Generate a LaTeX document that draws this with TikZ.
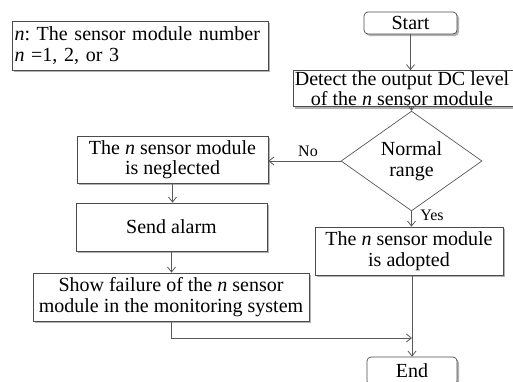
\documentclass[tikz,border=0pt]{standalone}
\usepackage{fontspec}
\setmainfont{Liberation Serif}
\usetikzlibrary{shapes.geometric,shadows,arrows.meta}
\definecolor{edgegray}{gray}{0.35}
\definecolor{bordergray}{gray}{0.3}
\frenchspacing
\begin{document}
\begin{tikzpicture}[x=1pt,y=-1pt,
  font=\fontsize{20}{20.5}\selectfont,
  box/.style={draw=bordergray, line width=0.7pt, fill=white, inner sep=0pt, align=center,
    drop shadow={shadow xshift=2pt, shadow yshift=-2pt, fill=black, opacity=0.3}},
  rbox/.style={box, rounded corners=4pt},
  dec/.style={draw=edgegray, line width=0.7pt, fill=white, diamond, inner sep=0pt, align=center,
    minimum width=141pt, minimum height=76pt},
  arr/.style={draw=edgegray, line width=0.8pt, -{Straight Barb[length=5pt,width=8pt]}},
  lbl/.style={font=\fontsize{16}{18}\selectfont, inner sep=0pt}]
\useasboundingbox (0,0) rectangle (513,381);
\node[box, minimum width=256pt, minimum height=49pt, text width=251pt, align=left] (legend) at (140,45.5)
  {\textit{n}: The sensor module number\\\textit{n} =1, 2, or 3};
\node[rbox, minimum width=93pt, minimum height=22pt] (start) at (410.5,23) {Start};
\node[box, minimum width=236pt, minimum height=36pt] (detect) at (411,88.5)
  {\makebox[236pt][l]{\makebox[218pt][c]{Detect the output DC level}}\\
   \makebox[236pt][l]{\makebox[218pt][c]{of the \textit{n} sensor module}}};
\node[dec] (dia) at (411.5,161) {Normal\\range};
\node[box, minimum width=191pt, minimum height=47pt] (negl) at (172.5,159.5)
  {The \textit{n} sensor module\\is neglected};
\node[box, minimum width=191pt, minimum height=48pt] (send) at (171.5,227) {Send alarm};
\node[box, minimum width=276pt, minimum height=48pt] (show) at (171,297)
  {Show failure of the \textit{n} sensor\\module in the monitoring system};
\node[box, minimum width=188pt, minimum height=48pt] (adopt) at (409,251)
  {The \textit{n} sensor module\\is adopted};
\node[rbox, minimum width=90pt, minimum height=28pt] (end) at (412,371) {End};
\node[lbl] (no) at (308,151) {No};
\node[lbl] (yes) at (432,215) {Yes};
\coordinate (join) at (412,338);
\draw[arr] (start.south) -- (start.south |- detect.north);
\draw[arr] (dia.north |- detect.south) -- (dia.north);
\draw[arr] (dia.west) -- (dia.west -| negl.east);
\draw[arr] (negl.south) -- (negl.south |- send.north);
\draw[arr] (send.south) -- (send.south |- show.north);
\draw[arr] (dia.south) -- (dia.south |- adopt.north);
\draw[arr] (end.north |- adopt.south) -- (end.north);
\draw[arr] (show.south) |- (join);
\end{tikzpicture}
\end{document}
